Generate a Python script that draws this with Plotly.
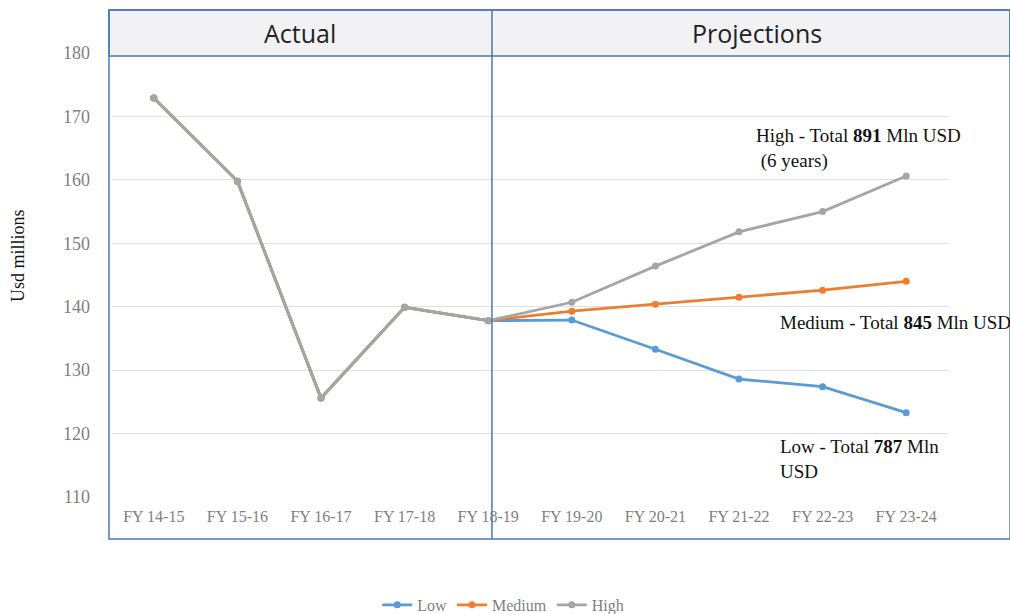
import plotly.graph_objects as go

# Fiscal years on the category axis
years = ["FY 14-15", "FY 15-16", "FY 16-17", "FY 17-18", "FY 18-19",
         "FY 19-20", "FY 20-21", "FY 21-22", "FY 22-23", "FY 23-24"]

# Actual values (FY 14-15 .. FY 18-19), shared by every scenario
actual = [172.9, 159.8, 125.6, 139.9, 137.8]

# Projected values per scenario (FY 19-20 .. FY 23-24)
low_proj = [137.9, 133.3, 128.6, 127.4, 123.3]
medium_proj = [139.3, 140.4, 141.5, 142.6, 144.0]
high_proj = [140.7, 146.4, 151.8, 155.0, 160.6]

y_ticks = [110, 120, 130, 140, 150, 160, 170, 180]

series = [
    ("Low", actual + low_proj, "#5B9BD5"),
    ("Medium", actual + medium_proj, "#ED7D31"),
    ("High", actual + high_proj, "#A5A5A5"),
]

SERIF = "Liberation Serif"
SANS = "Open Sans"
BOX = "#4A7AB0"

fig = go.Figure()
for name, vals, color in series:
    fig.add_trace(go.Scatter(
        x=years, y=vals, name=name, mode="lines+markers",
        line=dict(color=color, width=2.8),
        marker=dict(color=color, size=7),
    ))

# Section frame: header strip, outer border and the actual/projection divider
frame = [
    dict(type="rect", xref="paper", yref="paper", x0=-0.0036, x1=1.0742,
         y0=0.9932, y1=1.0968, fillcolor="#F2F2F4", line=dict(color=BOX, width=1.5),
         layer="above"),
    dict(type="rect", xref="paper", yref="paper", x0=-0.0036, x1=1.0742,
         y0=-0.0946, y1=1.0968, fillcolor="rgba(0,0,0,0)", line=dict(color=BOX, width=1.5),
         layer="above"),
    dict(type="line", xref="paper", yref="paper", x0=0.4545, x1=0.4545,
         y0=-0.0946, y1=1.0968, line=dict(color=BOX, width=1.5), layer="above"),
]

note_font = dict(family=SERIF, size=19, color="#111111")
annotations = [
    dict(text="Actual", xref="paper", yref="paper", x=0.225, y=1.045,
         showarrow=False, font=dict(family=SANS, size=25, color="#222222"),
         xanchor="center", yanchor="middle"),
    dict(text="Projections", xref="paper", yref="paper", x=0.771, y=1.045,
         showarrow=False, font=dict(family=SANS, size=25, color="#222222"),
         xanchor="center", yanchor="middle"),
    dict(text="High - Total <b>891</b> Mln USD<br> (6 years)", xref="paper", yref="paper",
         x=0.7675, y=0.785, showarrow=False, align="left", font=note_font,
         xanchor="left", yanchor="middle"),
    dict(text="Medium - Total <b>845</b> Mln USD", xref="paper", yref="paper",
         x=0.797, y=0.394, showarrow=False, align="left", font=note_font,
         xanchor="left", yanchor="middle"),
    dict(text="Low - Total <b>787</b> Mln<br>USD", xref="paper", yref="paper",
         x=0.797, y=0.0867, showarrow=False, align="left", font=note_font,
         xanchor="left", yanchor="middle"),
    # y-axis title
    dict(text="Usd millions", xref="paper", yref="paper", x=-0.1124, y=0.543,
         showarrow=False, textangle=-90, font=dict(family=SERIF, size=18, color="#111111"),
         xanchor="center", yanchor="middle"),
]

fig.update_layout(
    width=1010, height=614,
    margin=dict(l=112, r=62, t=53, b=117, autoexpand=False),
    paper_bgcolor="white", plot_bgcolor="white",
    showlegend=True,
    legend=dict(orientation="h", x=0.468, y=-0.243, xanchor="center", yanchor="middle",
                font=dict(family=SERIF, size=16, color="#7F7F7F"),
                itemwidth=30, tracegroupgap=0),
    shapes=frame,
    annotations=annotations,
)

fig.update_xaxes(
    type="category", range=[-0.5, 9.5], showgrid=False, showline=False,
    ticks="", tickfont=dict(family=SERIF, size=16, color="#7F7F7F"),
    ticklabelstandoff=8,
)
fig.update_yaxes(
    range=[110, 180], tickvals=y_ticks, showgrid=True, gridcolor="#E0E0E0",
    gridwidth=1, zeroline=False, showline=False, ticks="",
    tickfont=dict(family=SERIF, size=18, color="#7F7F7F"),
    ticklabelstandoff=21,
)

fig.write_html("out.html")
